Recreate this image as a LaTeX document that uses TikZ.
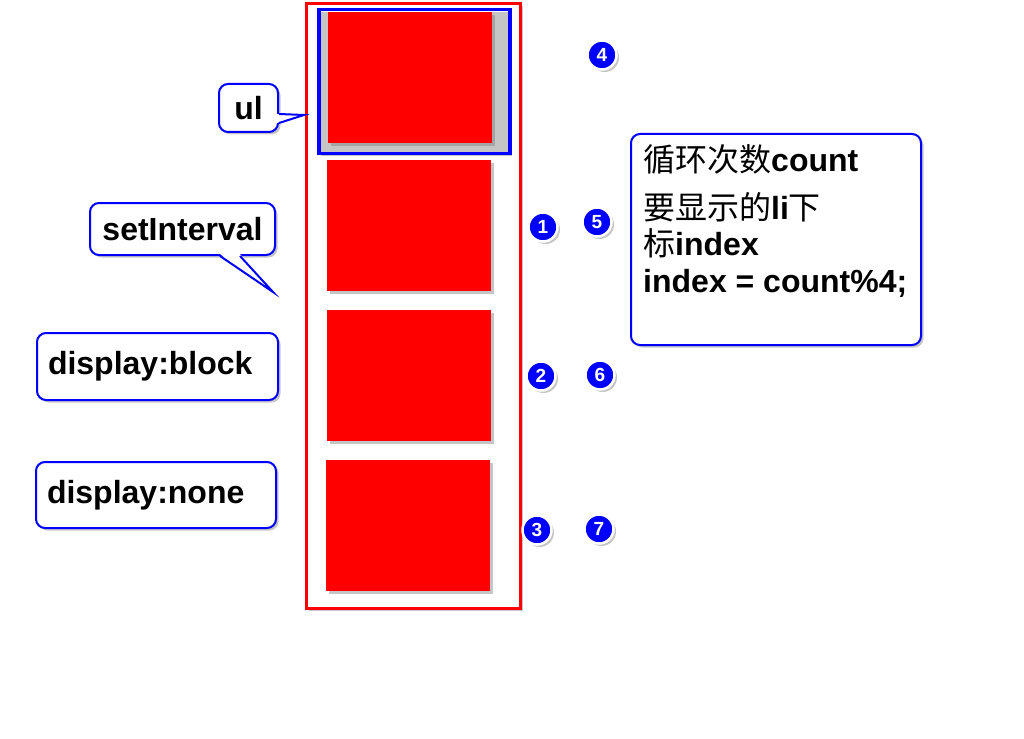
\documentclass[tikz,border=0pt]{standalone}
\usepackage{fontspec}
\setmainfont{Liberation Sans}
\newfontfamily\cjk{Noto Sans CJK SC}
\usetikzlibrary{shadows, calc, positioning}

\begin{document}
\begin{tikzpicture}[
    x=1pt, y=-1pt,
    font=\fontsize{32}{36.5}\selectfont\bfseries,
    shade/.style={drop shadow={opacity=0.45, shadow xshift=2.5pt, shadow yshift=-2.5pt}},
    liitem/.style={fill=red, minimum width=164, minimum height=131, inner sep=0, anchor=north west, shade},
    callbox/.style={draw=blue, line width=2, fill=white, rounded corners=9, inner sep=0, shade},
    num/.style={circle, fill=blue, draw=white, line width=2.5, minimum size=29, inner sep=0, text=white, font=\fontsize{19}{19}\selectfont\bfseries, shade},
    tip/.style={draw=blue, line width=2}
]
\useasboundingbox (0,0) rectangle (1024,738);

% ul and li items
\node[draw=red, line width=3, fill=white, minimum width=214, minimum height=605, inner sep=0, anchor=north west, shade] (ul) at (305,2) {};
\node[draw=blue, line width=3.5, minimum width=191, minimum height=144, inner sep=0, anchor=north west, shade] (cur) at (317,8) {};
\node[liitem] (li1) at (328,12) {};
\node[liitem] (li2) at (327,160) {};
\node[liitem] (li3) at (327,310) {};
\node[liitem] (li4) at (326,460) {};

% Callouts
\node[callbox, minimum width=59, minimum height=48] (ulnote) at (248.5,108) {ul};
\node[callbox, minimum width=185, minimum height=52] (timer) at (182.5,229) {setInterval};
\node[callbox, minimum width=241, minimum height=67, anchor=north west, align=left, text width=219, inner xsep=11] (block) at (36,332) {display:block};
\node[callbox, minimum width=240, minimum height=66, anchor=north west, align=left, text width=218, inner xsep=11] (none) at (35,461) {display:none};
\node[callbox, minimum width=290, minimum height=211, anchor=north west] (info) at (630,133) {};
\node[anchor=north west, align=left, inner sep=0] (infotext) at (643,144)
    {{\cjk\mdseries 循环次数}count\\[11.5pt]{\cjk\mdseries 要显示的}li{\cjk\mdseries 下}\\{\cjk\mdseries 标}index\\index = count\%4;};

% Pointers
\coordinate (ultip) at (304,115);
\fill[white] ($(ulnote.east)+(-2,6)$) -- (ultip) -- ($(ulnote.east)+(-2,15)$) -- cycle;
\draw[tip] ($(ulnote.east)+(0,6)$) -- (ultip) -- ($(ulnote.east)+(0,15)$);
\coordinate (timertip) at (273,292);
\fill[white] ($(timer.south)+(37.5,-2)$) -- (timertip) -- ($(timer.south)+(57.5,-2)$) -- cycle;
\draw[tip] ($(timer.south)+(37.5,0)$) -- (timertip) -- ($(timer.south)+(57.5,0)$);

% Numbered marks
\node[num] (n4) at (602,55) {4};
\node[num] (n1) at (543,227) {1};
\node[num] (n5) at (597,222) {5};
\node[num] (n2) at (541,376) {2};
\node[num] (n6) at (600,375) {6};
\node[num] (n3) at (537,530) {3};
\node[num] (n7) at (599,529) {7};

\end{tikzpicture}
\end{document}
